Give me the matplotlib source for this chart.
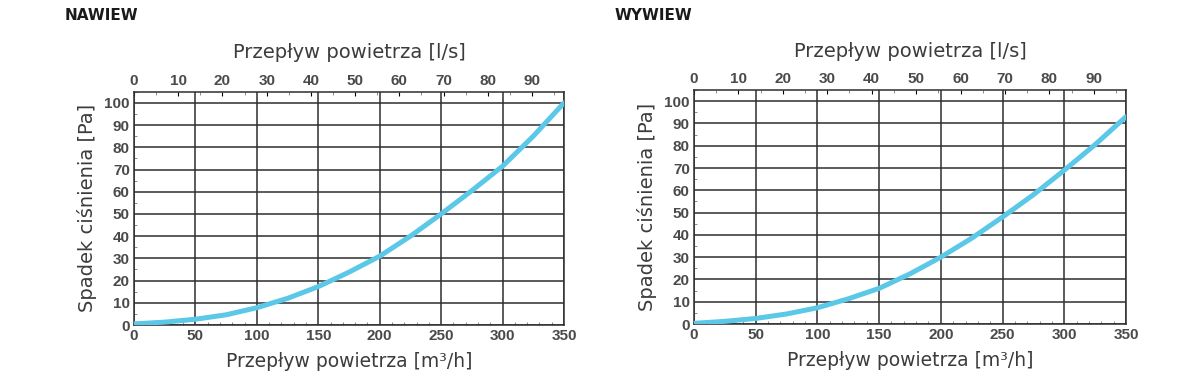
import matplotlib
matplotlib.use("Agg")
import matplotlib.pyplot as plt
from matplotlib.ticker import MultipleLocator

# flow in m3/h, pressure drop in Pa
flow = [0, 25, 50, 75, 100, 125, 150, 175, 200, 225, 250, 275, 300, 325, 350]
nawiew = [0.5, 1.3, 2.6, 4.6, 7.8, 12.0, 17.3, 23.8, 31.0, 40.0, 50.0, 60.5, 71.5, 85.0, 100.0]
wywiew = [0.3, 1.2, 2.5, 4.5, 7.3, 11.3, 16.0, 22.5, 30.0, 38.5, 48.0, 58.0, 69.0, 80.5, 93.0]

titles = ["NAWIEW", "WYWIEW"]
series = [nawiew, wywiew]
y_ticks = list(range(0, 101, 10))
x_ticks = list(range(0, 351, 50))
ls_ticks = list(range(0, 91, 10))

line_color = "#5bc8e8"
grid_color = "#2e2e2e"
text_color = "#3c3c3c"
tick_color = "#4a4a4a"
tick_font = "Liberation Sans"

fig = plt.figure(figsize=(12, 3.83), dpi=100)
positions = [[0.1117, 0.1514, 0.3583, 0.609], [0.5783, 0.154, 0.36, 0.611]]
title_x = [0.054, 0.512]


def style_labels(labels):
    for lab in labels:
        lab.set_family(tick_font)
        lab.set_fontsize(11)
        lab.set_fontweight("bold")
        lab.set_color(tick_color)


for pos, name, vals, tx in zip(positions, titles, series, title_x):
    ax = fig.add_axes(pos)
    ax.plot(flow, vals, color=line_color, lw=3.6, solid_capstyle="round", zorder=3)
    ax.set_xlim(0, 350)
    ax.set_ylim(0, 105)
    ax.set_xticks(x_ticks)
    ax.set_yticks(y_ticks)
    ax.xaxis.set_minor_locator(MultipleLocator(10))
    ax.yaxis.set_minor_locator(MultipleLocator(5))
    ax.grid(True, which="major", color=grid_color, lw=1.1)
    for s in ax.spines.values():
        s.set_color(grid_color)
        s.set_linewidth(1.1)
    ax.tick_params(which="major", direction="in", length=0, pad=3)
    ax.tick_params(which="minor", direction="in", length=2.5, color="#777777")
    ax.tick_params(axis="x", which="both", top=False)
    style_labels(ax.get_xticklabels() + ax.get_yticklabels())

    ax.set_xlabel("Przepływ powietrza [m³/h]", fontsize=13.5, color=text_color, labelpad=6)
    ax.set_ylabel("Spadek ciśnienia [Pa]", fontsize=14, color=text_color, labelpad=5)

    top = ax.secondary_xaxis("top", functions=(lambda v: v / 3.6, lambda v: v * 3.6))
    top.set_xticks(ls_ticks)
    top.xaxis.set_minor_locator(MultipleLocator(5))
    top.spines["top"].set_visible(False)
    top.tick_params(which="major", direction="in", length=3, pad=3)
    top.tick_params(which="minor", direction="in", length=2.5, color="#777777")
    style_labels(top.get_xticklabels())
    top.set_xlabel("Przepływ powietrza [l/s]", fontsize=14, color=text_color, labelpad=11)

    fig.text(tx, 0.96, name, fontsize=11, fontweight="bold", color="#1a1a1a", va="center")

fig.savefig("out.png", dpi=100, facecolor="white")
